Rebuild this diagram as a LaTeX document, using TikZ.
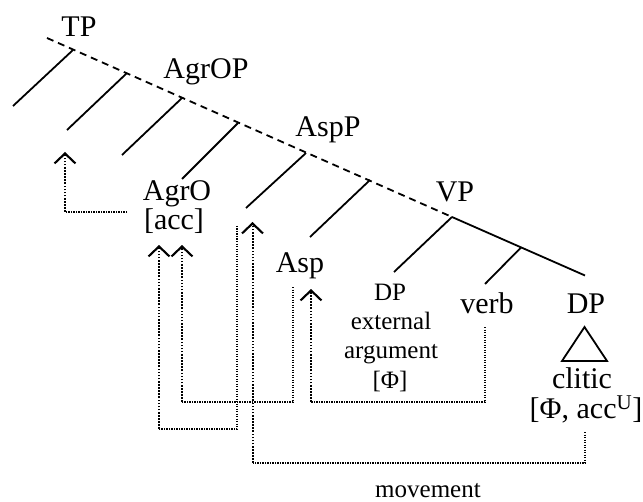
\documentclass[tikz,border=0pt]{standalone}
\usepackage{fontspec}
\setmainfont{Liberation Serif}
\usetikzlibrary{arrows.meta}

\begin{document}
\begin{tikzpicture}[x=1bp,y=-1bp,
  branch/.style={line width=1.8bp},
  spine/.style={line width=1.8bp, dash pattern=on 7bp off 5bp},
  lbl/.style={inner sep=0pt, anchor=base, font=\fontsize{30bp}{34bp}\selectfont},
  sm/.style={inner sep=0pt, anchor=base, font=\fontsize{25bp}{29bp}\selectfont},
  tail/.style={line width=1.3bp, dash pattern=on 1.2bp off 1.3bp},
  shaft/.style={line width=2bp, dash pattern=on 1.6bp off 1.5bp,
    -{Straight Barb[length=10bp,width=21bp,line width=2.1bp]}},
]
\useasboundingbox (0,0) rectangle (643,502);

% spine of the tree
\coordinate (s0) at (47,38);
\coordinate (n1) at (73,50);
\coordinate (n2) at (127,73);
\coordinate (n3) at (182,98);
\coordinate (n4) at (238,123);
\coordinate (n5) at (306,153);
\coordinate (n6) at (370,180);
\coordinate (n7) at (452,217);
\coordinate (n8) at (521,247.5);
\coordinate (n9) at (585,275.5);

% left daughters
\coordinate (l1) at (13,106);
\coordinate (l2) at (67,130);
\coordinate (l3) at (122,155);
\coordinate (l4) at (182,179);
\coordinate (l5) at (246,208);
\coordinate (l6) at (310,237);
\coordinate (l7) at (394,272);
\coordinate (l8) at (485,284);

\draw[spine] (s0) -- (n7);
\draw[branch] (n7) -- (n9);
\foreach \i in {1,...,8} \draw[branch] (n\i) -- (l\i);

% labels
\node[lbl] (tp)    at (79,37)   {TP};
\node[lbl] (agrop) at (206,79)  {AgrOP};
\node[lbl] (aspp)  at (328,137) {AspP};
\node[lbl] (vp)    at (455,202) {VP};
\node[lbl] (agro)  at (177,201) {AgrO};
\node[lbl] (acc)   at (174,230) {[acc]};
\node[lbl] (asp)   at (300,272) {Asp};
\node[sm]  (dpx)   at (390,300) {DP};
\node[sm]  (ext)   at (391,329.5) {external};
\node[sm]  (arg)   at (391,358.5) {argument};
\node[sm]  (phi)   at (390,388) {[Φ]};
\node[lbl] (verb)  at (487,313) {verb};
\node[lbl] (dpo)   at (586,313) {DP};
\node[lbl] (clit)  at (582,388) {clitic};
\node[lbl] (feat)  at (586,418) {[Φ, acc\textsuperscript{U}]};
\node[sm]  (mov)   at (428,497) {movement};

% triangle under the object DP
\coordinate (tt) at (584.5,327);
\coordinate (tl) at (562,361);
\coordinate (tr) at (607,361);
\draw[branch, line join=miter] (tt) -- (tr) -- (tl) -- cycle;

% movement paths: AgrO to the TP specifier
\coordinate (a0) at (127,212);
\coordinate (a1) at (65,212);
\coordinate (a2) at (65,152);
\draw[tail] (a0) -- (a1);
\draw[shaft] (a1) -- (a2);

% from the right of [acc] down and back up to AgrO
\coordinate (b0) at (237,226);
\coordinate (b1) at (237,429);
\coordinate (b2) at (159,429);
\coordinate (b3) at (159,245);
\draw[tail] (b0) -- (b1) -- (b2);
\draw[shaft] (b2) -- (b3);

% Asp to AgrO
\coordinate (c0) at (293,287);
\coordinate (c1) at (293,402);
\coordinate (c2) at (182,402);
\coordinate (c3) at (182,245);
\draw[tail] (c0) -- (c1) -- (c2);
\draw[shaft] (c2) -- (c3);

% clitic to the AspP specifier
\coordinate (d0) at (585,432);
\coordinate (d1) at (585,463);
\coordinate (d2) at (252.5,463);
\coordinate (d3) at (252.5,222);
\draw[tail] (d0) -- (d1) -- (d2);
\draw[shaft] (d2) -- (d3);

% verb to Asp
\coordinate (e0) at (485,327);
\coordinate (e1) at (485,402);
\coordinate (e2) at (311,402);
\coordinate (e3) at (311,289);
\draw[tail] (e0) -- (e1) -- (e2);
\draw[shaft] (e2) -- (e3);
\end{tikzpicture}
\end{document}
